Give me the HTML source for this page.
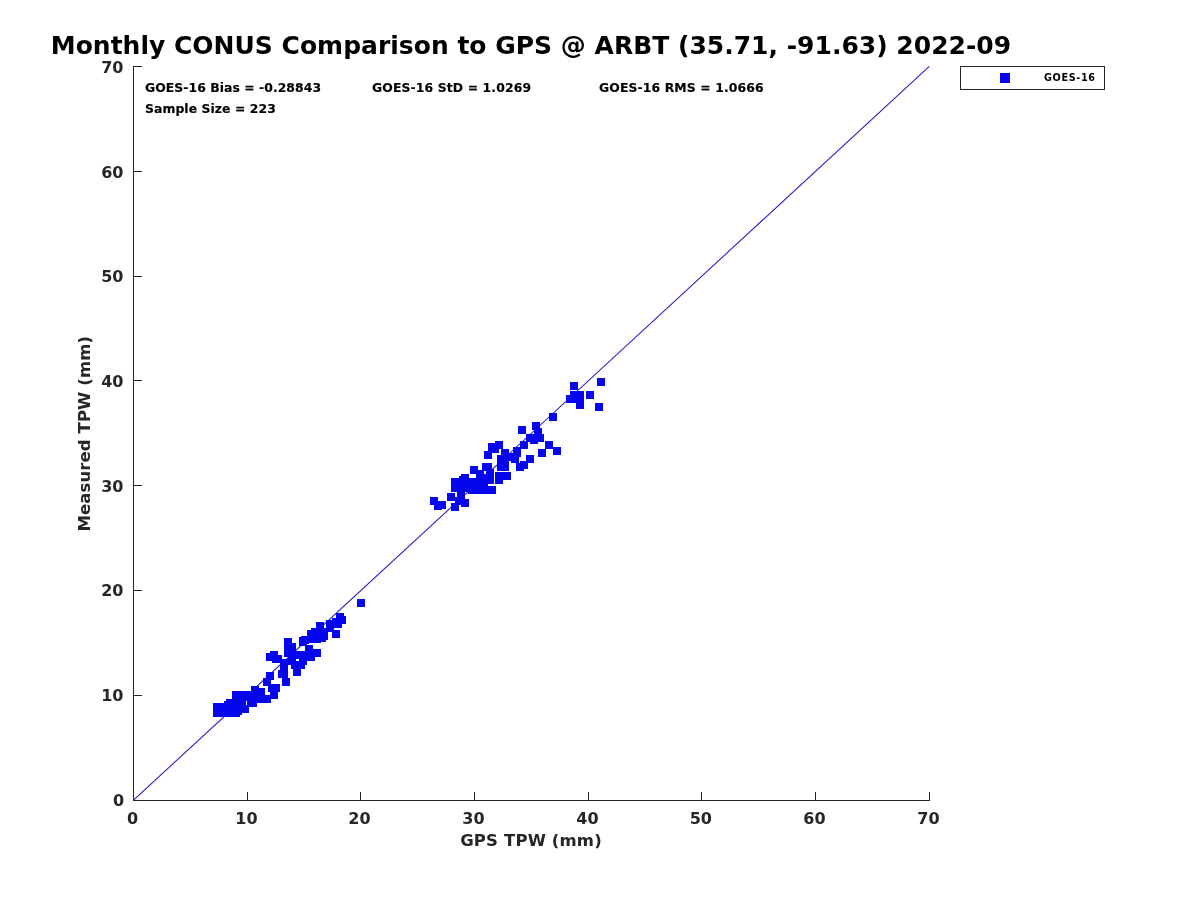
<!DOCTYPE html>
<html><head><meta charset="utf-8"><title>Monthly CONUS Comparison to GPS</title>
<style>
html,body{margin:0;padding:0;background:#fff;}
svg{display:block;}
text{font-family:"DejaVu Sans","Liberation Sans",sans-serif;font-weight:bold;}
.tk{font-size:16px;fill:#262626;}
.an{font-size:12.4px;fill:#000;stroke:#000;stroke-width:0.15px;}
.ax{stroke:#262626;stroke-width:1;fill:none;shape-rendering:crispEdges;}
</style></head><body>
<svg width="1200" height="900" viewBox="0 0 1200 900">
<rect width="1200" height="900" fill="#fff"/>
<!-- title -->
<text transform="translate(50.8 53.7) scale(1 0.96)" font-size="25" fill="#000" textLength="960.4" lengthAdjust="spacing">Monthly CONUS Comparison to GPS @ ARBT (35.71, -91.63) 2022-09</text>
<!-- axes -->
<g class="ax">
<path d="M133.5 66V800.5H930"/>
<path d="M133.5 66.5h8.5M133.5 171.5h8.5M133.5 276.5h8.5M133.5 380.5h8.5M133.5 485.5h8.5M133.5 590.5h8.5M133.5 695.5h8.5"/>
<path d="M247.5 800.5v-8.5M360.5 800.5v-8.5M474.5 800.5v-8.5M588.5 800.5v-8.5M701.5 800.5v-8.5M815.5 800.5v-8.5M929.5 800.5v-8.5"/>
</g>
<!-- 1:1 line -->
<line x1="133.5" y1="800.2" x2="929.3" y2="66.4" stroke="#2418c4" stroke-width="1.05"/>
<!-- x tick labels -->
<g class="tk" text-anchor="middle">
<text x="132.5" y="823.8">0</text><text x="246.5" y="823.8">10</text><text x="359.5" y="823.8">20</text><text x="473.5" y="823.8">30</text><text x="587.5" y="823.8">40</text><text x="700.8" y="823.8">50</text><text x="814.5" y="823.8">60</text><text x="928.5" y="823.8">70</text>
</g>
<g class="tk" text-anchor="end">
<text x="124.2" y="806">0</text><text x="123.4" y="700.5">10</text><text x="123.4" y="596.2">20</text><text x="123.4" y="491.5">30</text><text x="123.4" y="386.5">40</text><text x="123.4" y="282.3">50</text><text x="123.4" y="177.5">60</text><text x="123.4" y="72.5">70</text>
</g>
<text class="tk" transform="translate(460.2 846.1) scale(1 0.94)" style="font-size:16.5px" textLength="141.5" lengthAdjust="spacing">GPS TPW (mm)</text>
<text class="tk" transform="translate(89.5 531.5) rotate(-90) scale(1 0.94)" style="font-size:16.5px" textLength="195.5" lengthAdjust="spacing">Measured TPW (mm)</text>
<!-- annotations -->
<text class="an" x="145" y="91.7" textLength="176" lengthAdjust="spacing">GOES-16 Bias = -0.28843</text>
<text class="an" x="372" y="91.7" textLength="159" lengthAdjust="spacing">GOES-16 StD = 1.0269</text>
<text class="an" x="599" y="91.7" textLength="164.5" lengthAdjust="spacing">GOES-16 RMS = 1.0666</text>
<text class="an" x="145" y="112.7" textLength="130.8" lengthAdjust="spacing">Sample Size = 223</text>
<!-- legend -->
<rect x="960.5" y="66.5" width="144" height="23" fill="#fff" stroke="#262626" stroke-width="1" shape-rendering="crispEdges"/>
<rect x="1000" y="73" width="10" height="10" fill="#0606ee" shape-rendering="crispEdges"/>
<text x="1044" y="80.8" font-size="9.7" fill="#000" textLength="51" lengthAdjust="spacing">GOES-16</text>
<g id="pts" fill="#0606ee" shape-rendering="crispEdges">
<rect x="213" y="703" width="27" height="14"/>
<rect x="232" y="691" width="14" height="22"/>
<rect x="247" y="691" width="2" height="22"/>
<rect x="246" y="691" width="1" height="10"/>
<rect x="246" y="705" width="1" height="8"/>
<rect x="249" y="691" width="8" height="16"/>
<rect x="301" y="637" width="20" height="6"/>
<rect x="307" y="631" width="21" height="9"/>
<rect x="311" y="628" width="15" height="6"/>
<rect x="316" y="622" width="8" height="10"/>
<rect x="326" y="620" width="16" height="7"/>
<rect x="459" y="476" width="2" height="8"/>
<rect x="451" y="478" width="37" height="14"/>
<rect x="468" y="484" width="20" height="10"/>
<rect x="476" y="474" width="18" height="10"/>
<rect x="224" y="701" width="8" height="8"/>
<rect x="226" y="699" width="8" height="8"/>
<rect x="234" y="707" width="8" height="8"/>
<rect x="251" y="686" width="8" height="8"/>
<rect x="257" y="688" width="8" height="8"/>
<rect x="257" y="695" width="8" height="8"/>
<rect x="263" y="695" width="8" height="8"/>
<rect x="270" y="691" width="8" height="8"/>
<rect x="268" y="684" width="8" height="8"/>
<rect x="272" y="684" width="8" height="8"/>
<rect x="263" y="678" width="8" height="8"/>
<rect x="266" y="672" width="8" height="8"/>
<rect x="282" y="678" width="8" height="8"/>
<rect x="278" y="670" width="8" height="8"/>
<rect x="280" y="670" width="8" height="8"/>
<rect x="280" y="662" width="8" height="8"/>
<rect x="280" y="659" width="8" height="8"/>
<rect x="270" y="651" width="8" height="8"/>
<rect x="266" y="653" width="8" height="8"/>
<rect x="270" y="653" width="8" height="8"/>
<rect x="272" y="655" width="8" height="8"/>
<rect x="274" y="655" width="8" height="8"/>
<rect x="284" y="638" width="8" height="8"/>
<rect x="284" y="644" width="8" height="8"/>
<rect x="284" y="649" width="8" height="8"/>
<rect x="288" y="643" width="8" height="8"/>
<rect x="288" y="649" width="8" height="8"/>
<rect x="288" y="651" width="8" height="8"/>
<rect x="288" y="657" width="8" height="8"/>
<rect x="305" y="645" width="8" height="8"/>
<rect x="313" y="649" width="8" height="8"/>
<rect x="307" y="653" width="8" height="8"/>
<rect x="299" y="651" width="8" height="8"/>
<rect x="296" y="651" width="8" height="8"/>
<rect x="299" y="657" width="8" height="8"/>
<rect x="297" y="661" width="8" height="8"/>
<rect x="293" y="668" width="8" height="8"/>
<rect x="291" y="661" width="8" height="8"/>
<rect x="357" y="599" width="8" height="8"/>
<rect x="299" y="638" width="8" height="8"/>
<rect x="301" y="636" width="8" height="8"/>
<rect x="307" y="630" width="8" height="8"/>
<rect x="311" y="628" width="8" height="8"/>
<rect x="316" y="622" width="8" height="8"/>
<rect x="326" y="620" width="8" height="8"/>
<rect x="332" y="618" width="8" height="8"/>
<rect x="336" y="613" width="8" height="8"/>
<rect x="338" y="616" width="8" height="8"/>
<rect x="334" y="620" width="8" height="8"/>
<rect x="326" y="624" width="8" height="8"/>
<rect x="320" y="632" width="8" height="8"/>
<rect x="318" y="634" width="8" height="8"/>
<rect x="313" y="635" width="8" height="8"/>
<rect x="299" y="637" width="8" height="8"/>
<rect x="332" y="630" width="8" height="8"/>
<rect x="430" y="497" width="8" height="8"/>
<rect x="438" y="501" width="8" height="8"/>
<rect x="434" y="502" width="8" height="8"/>
<rect x="447" y="493" width="8" height="8"/>
<rect x="451" y="503" width="8" height="8"/>
<rect x="457" y="492" width="8" height="8"/>
<rect x="461" y="499" width="8" height="8"/>
<rect x="455" y="497" width="8" height="8"/>
<rect x="451" y="478" width="8" height="8"/>
<rect x="451" y="484" width="8" height="8"/>
<rect x="461" y="474" width="8" height="8"/>
<rect x="468" y="478" width="8" height="8"/>
<rect x="470" y="466" width="8" height="8"/>
<rect x="476" y="470" width="8" height="8"/>
<rect x="482" y="463" width="8" height="8"/>
<rect x="484" y="463" width="8" height="8"/>
<rect x="486" y="469" width="8" height="8"/>
<rect x="486" y="476" width="8" height="8"/>
<rect x="478" y="474" width="8" height="8"/>
<rect x="488" y="486" width="8" height="8"/>
<rect x="468" y="486" width="8" height="8"/>
<rect x="474" y="486" width="8" height="8"/>
<rect x="480" y="486" width="8" height="8"/>
<rect x="495" y="472" width="8" height="8"/>
<rect x="503" y="472" width="8" height="8"/>
<rect x="495" y="476" width="8" height="8"/>
<rect x="501" y="449" width="8" height="8"/>
<rect x="497" y="455" width="8" height="8"/>
<rect x="497" y="463" width="8" height="8"/>
<rect x="501" y="457" width="8" height="8"/>
<rect x="501" y="463" width="8" height="8"/>
<rect x="484" y="451" width="8" height="8"/>
<rect x="495" y="441" width="8" height="8"/>
<rect x="491" y="445" width="8" height="8"/>
<rect x="488" y="443" width="8" height="8"/>
<rect x="513" y="447" width="8" height="8"/>
<rect x="513" y="449" width="8" height="8"/>
<rect x="509" y="453" width="8" height="8"/>
<rect x="511" y="455" width="8" height="8"/>
<rect x="520" y="441" width="8" height="8"/>
<rect x="526" y="434" width="8" height="8"/>
<rect x="530" y="436" width="8" height="8"/>
<rect x="536" y="434" width="8" height="8"/>
<rect x="545" y="441" width="8" height="8"/>
<rect x="553" y="447" width="8" height="8"/>
<rect x="538" y="449" width="8" height="8"/>
<rect x="526" y="455" width="8" height="8"/>
<rect x="520" y="461" width="8" height="8"/>
<rect x="516" y="463" width="8" height="8"/>
<rect x="549" y="413" width="8" height="8"/>
<rect x="518" y="426" width="8" height="8"/>
<rect x="532" y="422" width="8" height="8"/>
<rect x="534" y="428" width="8" height="8"/>
<rect x="530" y="434" width="8" height="8"/>
<rect x="570" y="382" width="8" height="8"/>
<rect x="570" y="391" width="8" height="8"/>
<rect x="576" y="391" width="8" height="8"/>
<rect x="566" y="395" width="8" height="8"/>
<rect x="568" y="395" width="8" height="8"/>
<rect x="576" y="397" width="8" height="8"/>
<rect x="576" y="401" width="8" height="8"/>
<rect x="586" y="391" width="8" height="8"/>
<rect x="597" y="378" width="8" height="8"/>
<rect x="595" y="403" width="8" height="8"/>
</g>
</svg>
</body></html>
